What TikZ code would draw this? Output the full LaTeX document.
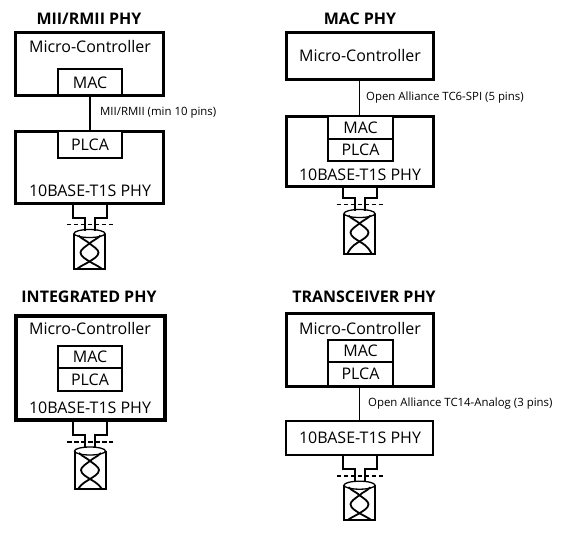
\documentclass[tikz,border=0pt]{standalone}
\usepackage{fontspec}
\setmainfont{Open Sans}
\begin{document}
\begin{tikzpicture}[x=1pt,y=-1pt,
  outerbox/.style={draw=black,line width=3pt,inner sep=0pt,fill=white},
  innerbox/.style={draw=black,line width=2.6pt,inner sep=0pt,fill=white},
  boxtext/.style={inner sep=0pt,font=\fontsize{16}{18}\selectfont},
  title/.style={inner sep=0pt,font=\fontsize{16}{18}\selectfont\bfseries},
  smalllabel/.style={inner sep=0pt,anchor=west,font=\fontsize{11.4}{13}\selectfont},
  link/.style={draw=black,line width=1.8pt},
  pics/cable/.style 2 args={code={
    \draw[line width=2pt] (-17,0) -- (-17,#1-12) -- (-5,#1-12) -- (-5,#1+1);
    \draw[line width=2pt] (17,0) -- (17,#1-12) -- (5,#1-12) -- (5,#1+1);
    \draw[line width=1.6pt,dash pattern=on 4.5pt off 2.5pt] (-23,#1-5) -- (23,#1-5);
    \draw[line width=2pt,fill=white] (-15.5,#1+4) -- (-15.5,#2) -- (15.5,#2) -- (15.5,#1+4);
    \draw[line width=1.8pt] (-11,#1+6) .. controls (-7,#1+10) and (-3,#1+11) .. (0,#1+14)
       .. controls (4,#1+17) and (9,#1+20) .. (9,#1+23)
       .. controls (9,#1+27) and (3,#1+30) .. (0,#1+32)
       .. controls (-3,#1+34) and (-8,#1+36) .. (-12,#2);
    \draw[line width=1.8pt] (11,#1+6) .. controls (7,#1+10) and (3,#1+11) .. (0,#1+14)
       .. controls (-4,#1+17) and (-9,#1+20) .. (-9,#1+23)
       .. controls (-9,#1+27) and (-3,#1+30) .. (0,#1+32)
       .. controls (3,#1+34) and (8,#1+36) .. (12,#2);
    \draw[line width=1.3pt] (0,#1+4) ellipse (15.5 and 4);
  }}
]
\useasboundingbox (0,0) rectangle (577,541);
\fill[white] (0,0) rectangle (577,541);

% Panel 1
\node[title] (t1) at (89,19) {MII/RMII PHY};
\node[outerbox,minimum width=148pt,minimum height=63pt] (mc1) at (89.5,63.5) {};
\node[boxtext] (mc1t) at (90,46) {Micro-Controller};
\node[innerbox,minimum width=64pt,minimum height=26pt] (mac1) at (90,82) {};
\node[boxtext] (mac1t) at (90,82.5) {MAC};
\node[outerbox,minimum width=148pt,minimum height=72pt] (phy1) at (89.5,167) {};
\node[innerbox,minimum width=64pt,minimum height=27pt] (plca1) at (90,144.5) {};
\node[boxtext] (plca1t) at (90,144.5) {PLCA};
\node[boxtext] (phy1t) at (90,191) {10BASE-T1S PHY};
\draw[link,line width=2.6pt] (mac1.south) -- (plca1.north);
\node[smalllabel] (l1) at (100,113) {MII/RMII (min 10 pins)};
\pic at (phy1.south) {cable={25}{64}};

% Panel 2
\node[title] (t2) at (360,19) {MAC PHY};
\node[outerbox,minimum width=147pt,minimum height=47pt] (mc2) at (359.5,55.5) {};
\node[boxtext] (mc2t) at (360,55) {Micro-Controller};
\node[outerbox,minimum width=147pt,minimum height=70pt] (phy2) at (359.5,151) {};
\node[innerbox,minimum width=65pt,minimum height=24pt] (mac2) at (360.5,128) {};
\node[boxtext] (mac2t) at (360.5,128) {MAC};
\node[innerbox,minimum width=65pt,minimum height=22pt] (plca2) at (360.5,150) {};
\node[boxtext] (plca2t) at (360.5,150) {PLCA};
\node[boxtext] (phy2t) at (360,175) {10BASE-T1S PHY};
\draw[link] (mc2.south) -- (phy2.north);
\node[smalllabel] (l2) at (366,98) {Open Alliance TC6-SPI (5 pins)};
\pic at (phy2.south) {cable={22}{66}};

% Panel 3
\node[title] (t3) at (89,297) {INTEGRATED PHY};
\node[outerbox,line width=4pt,minimum width=149pt,minimum height=104pt] (mc3) at (90,368) {};
\node[boxtext] (mc3t) at (90,328) {Micro-Controller};
\node[innerbox,minimum width=64pt,minimum height=22pt] (mac3) at (90,357) {};
\node[boxtext] (mac3t) at (90,356.5) {MAC};
\node[innerbox,minimum width=64pt,minimum height=23pt] (plca3) at (90,379.5) {};
\node[boxtext] (plca3t) at (90,379.5) {PLCA};
\node[boxtext] (phy3t) at (90,408) {10BASE-T1S PHY};
\pic at (mc3.south) {cable={25}{67}};

% Panel 4
\node[title] (t4) at (364,297) {TRANSCEIVER PHY};
\node[outerbox,minimum width=147pt,minimum height=73pt] (mc4) at (359.5,349.5) {};
\node[boxtext] (mc4t) at (360,328) {Micro-Controller};
\node[innerbox,minimum width=65pt,minimum height=22pt] (mac4) at (360.5,351) {};
\node[boxtext] (mac4t) at (360.5,351) {MAC};
\node[innerbox,minimum width=65pt,minimum height=24pt] (plca4) at (360.5,374) {};
\node[boxtext] (plca4t) at (360.5,374) {PLCA};
\node[outerbox,line width=2.4pt,minimum width=147pt,minimum height=34pt] (phy4) at (359.5,438) {};
\node[boxtext] (phy4t) at (360,438) {10BASE-T1S PHY};
\draw[link] (mc4.south) -- (phy4.north);
\node[smalllabel] (l4) at (368,404) {Open Alliance TC14-Analog (3 pins)};
\pic at (phy4.south) {cable={25}{64}};
\end{tikzpicture}
\end{document}
